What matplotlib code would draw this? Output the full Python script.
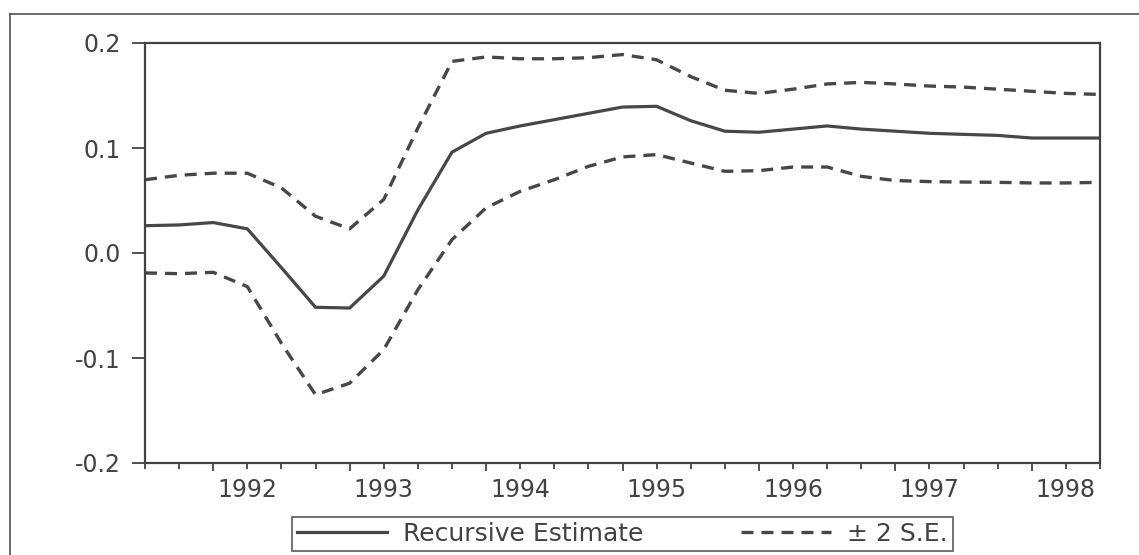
#!/usr/bin/env python3
import numpy as np
import matplotlib
matplotlib.use("Agg")
import matplotlib.pyplot as plt
from matplotlib.lines import Line2D
from matplotlib.ticker import FixedLocator, FuncFormatter

# quarterly observations, index 0 = first quarter shown
obs = np.arange(29)
year_labels = {3: "1992", 7: "1993", 11: "1994", 15: "1995",
               19: "1996", 23: "1997", 27: "1998"}

recursive = [0.026, 0.0267, 0.029, 0.023, -0.014, -0.0517, -0.0524, -0.022,
             0.041, 0.096, 0.114, 0.121, 0.127, 0.133, 0.139, 0.1397,
             0.126, 0.116, 0.115, 0.118, 0.121, 0.118, 0.116, 0.114,
             0.113, 0.112, 0.1095, 0.1095, 0.1095]
upper = [0.0698, 0.074, 0.076, 0.076, 0.062, 0.035, 0.023, 0.051,
         0.119, 0.1825, 0.1867, 0.185, 0.185, 0.186, 0.189, 0.184,
         0.168, 0.155, 0.152, 0.156, 0.161, 0.1625, 0.161, 0.159,
         0.158, 0.156, 0.154, 0.152, 0.151]
lower = [-0.019, -0.0197, -0.0184, -0.032, -0.086, -0.135, -0.124, -0.092,
         -0.035, 0.0127, 0.043, 0.0587, 0.0698, 0.0825, 0.0915, 0.0937,
         0.0857, 0.0778, 0.0784, 0.0819, 0.0819, 0.073, 0.069, 0.068,
         0.0676, 0.0673, 0.0667, 0.0667, 0.0673]

y_ticks = [-0.2, -0.1, 0.0, 0.1, 0.2]

W, H = 1139, 555
ink = "#424242"
line_c = "#474747"
dash = (0, (3.6, 2.4))

plt.rcParams["font.family"] = ["DejaVu Sans"]

fig = plt.figure(figsize=(W / 100, H / 100), dpi=100)
ax = fig.add_axes([145 / W, 1 - 463 / H, 955 / W, 420 / H])

ax.plot(obs, recursive, color=line_c, lw=2.3, solid_joinstyle="miter",
        label="Recursive Estimate")
ax.plot(obs, upper, color=line_c, lw=2.4, linestyle=dash, label="\u00b1 2 S.E.")
ax.plot(obs, lower, color=line_c, lw=2.4, linestyle=dash)

ax.set_xlim(0, 28)
ax.set_ylim(-0.2, 0.2)

ax.set_yticks(y_ticks)
ax.set_yticklabels([f"{v:.1f}" for v in y_ticks])
ax.tick_params(axis="y", direction="out", length=9.5, width=1.3, color=ink,
               labelsize=17, labelcolor=ink, pad=8)

# longer ticks (unlabelled) and short ticks carrying the year labels
major = [k for k in obs if k % 4 == 2]
minor = [k for k in obs if k % 4 != 2]
ax.xaxis.set_major_locator(FixedLocator(major))
ax.xaxis.set_major_formatter(FuncFormatter(lambda v, p: ""))
ax.xaxis.set_minor_locator(FixedLocator(minor))
ax.xaxis.set_minor_formatter(FuncFormatter(lambda v, p: year_labels.get(int(round(v)), "")))
ax.tick_params(axis="x", which="major", direction="out", length=6, width=1.3, color=ink)
ax.tick_params(axis="x", which="minor", direction="out", length=4, width=1.3, color=ink,
               labelsize=17, labelcolor=ink, pad=7)

for s in ax.spines.values():
    s.set_color(ink)
    s.set_linewidth(1.6)

leg = fig.legend(loc="center", bbox_to_anchor=(622.5 / W, 1 - 534 / H),
                 ncol=2, fontsize=18, frameon=True, fancybox=False,
                 handlelength=3.6, handletextpad=0.65, columnspacing=3.9,
                 borderpad=0.2, labelcolor=ink)
leg.get_frame().set_edgecolor(ink)
leg.get_frame().set_linewidth(1.3)

# outer frame of the graph page (cut off at right and bottom)
fx, fy = 9.5 / W, 1 - 14 / H
fig.add_artist(Line2D([fx, fx], [0, fy], transform=fig.transFigure, color=ink, lw=1.1))
fig.add_artist(Line2D([fx, 1], [fy, fy], transform=fig.transFigure, color=ink, lw=1.1))

fig.savefig("out.png", dpi=100, facecolor="white")
